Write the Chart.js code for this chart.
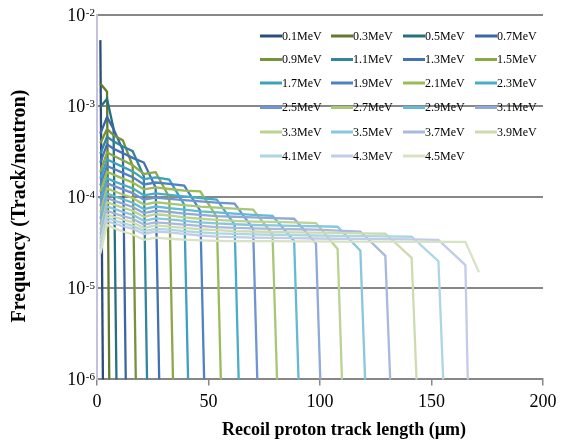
<!DOCTYPE html>
<html>
<head>
<meta charset="utf-8">
<script src="https://cdn.jsdelivr.net/npm/chart.js@4.4.0/dist/chart.umd.min.js"></script>
<style>
  html, body { margin: 0; padding: 0; background: #fff; }
  #wrap { width: 563px; height: 443px; }
</style>
</head>
<body>
<div id="wrap"><canvas id="chart" width="563" height="443"></canvas></div>
<script>
// track length of each bin (um), shared by all curves
var trackLength = [1.5, 4.5, 7.4, 11.6, 16.0, 21.0, 26.3, 32.4, 39.1, 46.3, 53.7, 61.7,
                   70.0, 78.7, 88.4, 98.2, 107.9, 118.1, 129.3, 141.1, 153.1, 165.2, 171.3];

var energies = ['0.1MeV', '0.3MeV', '0.5MeV', '0.7MeV', '0.9MeV', '1.1MeV', '1.3MeV', '1.5MeV',
                '1.7MeV', '1.9MeV', '2.1MeV', '2.3MeV', '2.5MeV', '2.7MeV', '2.9MeV', '3.1MeV',
                '3.3MeV', '3.5MeV', '3.7MeV', '3.9MeV', '4.1MeV', '4.3MeV', '4.5MeV'];

// frequency (track/neutron) per bin, one list per neutron energy
var f01 = [5.3e-3];
var f03 = [1.77e-3, 1.44e-3];
var f05 = [9.8e-4, 1.2e-3, 5.7e-4];
var f07 = [5.0e-4, 7.6e-4, 5.6e-4, 3.3e-4];
var f09 = [3.9e-4, 5.6e-4, 4.8e-4, 4.2e-4, 2.2e-4];
var f11 = [3.0e-4, 4.6e-4, 4.1e-4, 3.6e-4, 3.2e-4, 1.7e-4];
var f13 = [2.4e-4, 3.8e-4, 3.4e-4, 3.05e-4, 2.7e-4, 2.4e-4, 1.28e-4];
var f15 = [1.9e-4, 3.1e-4, 2.85e-4, 2.55e-4, 2.25e-4, 1.8e-4, 1.88e-4, 1.0e-4];
var f17 = [1.6e-4, 2.6e-4, 2.4e-4, 2.15e-4, 1.92e-4, 1.58e-4, 1.65e-4, 1.56e-4, 8.3e-5];
var f19 = [1.35e-4, 2.2e-4, 2.05e-4, 1.85e-4, 1.66e-4, 1.38e-4, 1.45e-4, 1.4e-4, 1.34e-4, 7.1e-5];
var f21 = [1.15e-4, 1.9e-4, 1.77e-4, 1.6e-4, 1.45e-4, 1.22e-4, 1.28e-4, 1.23e-4, 1.18e-4, 1.16e-4, 6.1e-5];
var f23 = [9.5e-5, 1.62e-4, 1.5e-4, 1.37e-4, 1.25e-4, 1.05e-4, 1.1e-4, 1.06e-4, 1.02e-4, 9.8e-5, 9.4e-5, 5.0e-5];
var f25 = [8.0e-5, 1.42e-4, 1.33e-4, 1.22e-4, 1.11e-4, 9.4e-5, 9.9e-5, 9.6e-5, 9.3e-5, 9.0e-5, 8.7e-5, 8.5e-5, 4.5e-5];
var f27 = [6.8e-5, 1.25e-4, 1.17e-4, 1.07e-4, 9.8e-5, 8.3e-5, 8.8e-5, 8.5e-5, 8.2e-5, 7.9e-5, 7.7e-5, 7.5e-5, 7.3e-5, 3.9e-5];
var f29 = [5.8e-5, 1.1e-4, 1.03e-4, 9.5e-5, 8.7e-5, 7.4e-5, 7.9e-5, 7.6e-5, 7.3e-5, 7.0e-5, 6.8e-5, 6.6e-5, 6.4e-5, 6.25e-5, 3.3e-5];
var f31 = [5.0e-5, 9.8e-5, 9.2e-5, 8.5e-5, 7.8e-5, 6.7e-5, 7.1e-5, 6.9e-5, 6.6e-5, 6.4e-5, 6.2e-5, 6.1e-5, 6.0e-5, 5.9e-5, 5.8e-5, 3.1e-5];
var f33 = [4.4e-5, 8.8e-5, 8.3e-5, 7.7e-5, 7.1e-5, 6.1e-5, 6.5e-5, 6.3e-5, 6.0e-5, 5.8e-5, 5.65e-5, 5.5e-5, 5.4e-5, 5.35e-5, 5.3e-5, 5.2e-5, 2.7e-5];
var f35 = [3.9e-5, 7.9e-5, 7.5e-5, 6.9e-5, 6.4e-5, 5.5e-5, 5.85e-5, 5.7e-5, 5.5e-5, 5.3e-5, 5.15e-5, 5.05e-5, 4.95e-5, 4.9e-5, 4.85e-5, 4.8e-5, 4.74e-5, 2.58e-5];
var f37 = [3.5e-5, 7.1e-5, 6.7e-5, 6.2e-5, 5.8e-5, 5.0e-5, 5.3e-5, 5.15e-5, 5.0e-5, 4.85e-5, 4.7e-5, 4.6e-5, 4.55e-5, 4.5e-5, 4.45e-5, 4.4e-5, 4.3e-5, 4.2e-5, 2.27e-5];
var f39 = [3.2e-5, 6.5e-5, 6.1e-5, 5.7e-5, 5.3e-5, 4.6e-5, 4.9e-5, 4.75e-5, 4.6e-5, 4.45e-5, 4.35e-5, 4.25e-5, 4.2e-5, 4.15e-5, 4.12e-5, 4.08e-5, 4.05e-5, 4.0e-5, 3.97e-5, 2.16e-5];
var f41 = [2.9e-5, 6.0e-5, 5.6e-5, 5.2e-5, 4.85e-5, 4.25e-5, 4.5e-5, 4.4e-5, 4.25e-5, 4.1e-5, 4.0e-5, 3.95e-5, 3.9e-5, 3.87e-5, 3.84e-5, 3.8e-5, 3.77e-5, 3.74e-5, 3.71e-5, 3.68e-5, 1.98e-5];
var f43 = [2.7e-5, 5.5e-5, 5.15e-5, 4.8e-5, 4.5e-5, 3.95e-5, 4.2e-5, 4.1e-5, 3.95e-5, 3.8e-5, 3.7e-5, 3.65e-5, 3.6e-5, 3.58e-5, 3.55e-5, 3.52e-5, 3.5e-5, 3.48e-5, 3.46e-5, 3.44e-5, 3.4e-5, 1.8e-5];
var f45 = [2.4e-5, 5.0e-5, 4.6e-5, 4.2e-5, 3.9e-5, 3.4e-5, 3.6e-5, 3.5e-5, 3.42e-5, 3.36e-5, 3.32e-5, 3.3e-5, 3.3e-5, 3.3e-5, 3.28e-5, 3.27e-5, 3.26e-5, 3.25e-5, 3.25e-5, 3.24e-5, 3.24e-5, 3.24e-5, 1.5e-5];

var frequency = [f01, f03, f05, f07, f09, f11, f13, f15, f17, f19, f21, f23,
                 f25, f27, f29, f31, f33, f35, f37, f39, f41, f43, f45];

// each curve falls to (practically) zero at the next bin
var dropValue = 1e-12;

var yTicks = [1e-6, 1e-5, 1e-4, 1e-3, 1e-2];
var yExponents = ['-6', '-5', '-4', '-3', '-2'];
var xTicks = [0, 50, 100, 150, 200];

var lineColors = [
    '#2c4d7a', '#627a30', '#27707f', '#3b65a3', '#76923c', '#31859c', '#4470b4', '#8aa84a',
    '#3ea0bd', '#4f81c4', '#9bbb59', '#4bacc6', '#7094cf', '#a9c675', '#63bad2', '#90a9d8',
    '#bad292', '#88c7dc', '#a9b8de', '#cddcb0', '#acd6e3', '#c2cce6', '#d8e2c4'
];

var serif = '"Liberation Serif", "Times New Roman", serif';

var datasets = energies.map(function (name, i) {
    var vals = frequency[i];
    var pts = vals.map(function (v, k) { return { x: trackLength[k], y: v }; });
    if (vals.length < trackLength.length) {
        pts.push({ x: trackLength[vals.length], y: dropValue });
    }
    return {
        label: name,
        data: pts,
        borderColor: lineColors[i],
        backgroundColor: lineColors[i],
        borderWidth: 2.3,
        pointRadius: 0,
        tension: 0,
        fill: false,
        order: 23 - i
    };
});

// y labels with superscript, axis titles, and the 4-column legend inside the plot
var decorations = {
    id: 'decorations',
    afterDraw: function (chart) {
        var ctx = chart.ctx;
        var y = chart.scales.y;
        var area = chart.chartArea;
        ctx.save();
        ctx.fillStyle = '#000';

        yTicks.forEach(function (v, i) {
            var py = y.getPixelForValue(v);
            ctx.font = '11px ' + serif;
            ctx.textAlign = 'left';
            ctx.textBaseline = 'alphabetic';
            var ew = ctx.measureText(yExponents[i]).width;
            var ex = area.left - 2 - ew;
            ctx.fillText(yExponents[i], ex, py + 1);
            ctx.font = '18px ' + serif;
            ctx.textAlign = 'right';
            ctx.textBaseline = 'middle';
            ctx.fillText('10', ex - 0.5, py + 1);
        });

        ctx.font = 'bold 18px ' + serif;
        ctx.textAlign = 'center';
        ctx.textBaseline = 'middle';
        ctx.fillText('Recoil proton track length (\u00b5m)', 344, 430);

        ctx.save();
        ctx.translate(20, 206);
        ctx.rotate(-Math.PI / 2);
        ctx.font = 'bold 20px ' + serif;
        ctx.fillText('Frequency (Track/neutron)', 0, 0);
        ctx.restore();

        var cols = [260, 331, 403, 475];
        var rows = [36, 59.5, 83, 107.5, 132, 156];
        ctx.font = '12px ' + serif;
        ctx.textAlign = 'left';
        ctx.textBaseline = 'middle';
        energies.forEach(function (name, i) {
            var cx = cols[i % 4], cy = rows[Math.floor(i / 4)];
            ctx.strokeStyle = lineColors[i];
            ctx.lineWidth = 3;
            ctx.beginPath();
            ctx.moveTo(cx, cy);
            ctx.lineTo(cx + 22, cy);
            ctx.stroke();
            ctx.fillStyle = '#000';
            ctx.fillText(name, cx + 22, cy + 0.5);
        });
        ctx.restore();
    }
};

new Chart(document.getElementById('chart'), {
    type: 'line',
    data: { datasets: datasets },
    options: {
        responsive: false,
        animation: false,
        devicePixelRatio: 1,
        layout: { padding: { left: 6, right: 20, top: 15, bottom: 24 } },
        plugins: {
            legend: { display: false },
            tooltip: { enabled: false }
        },
        scales: {
            x: {
                type: 'linear',
                min: 0,
                max: 200,
                afterBuildTicks: function (axis) {
                    axis.ticks = xTicks.map(function (v) { return { value: v }; });
                },
                ticks: {
                    color: '#000',
                    font: { family: serif, size: 18 },
                    padding: 6,
                    maxRotation: 0
                },
                grid: { drawOnChartArea: false, drawTicks: true, tickLength: 6, color: '#878787', lineWidth: 1.5 },
                border: { color: '#878787', width: 2 }
            },
            y: {
                type: 'logarithmic',
                min: 1e-6,
                max: 1e-2,
                afterBuildTicks: function (axis) {
                    axis.ticks = yTicks.map(function (v) { return { value: v }; });
                },
                afterFit: function (scale) { scale.width = 91; },
                ticks: { display: false },
                grid: { color: '#878787', lineWidth: 2, drawTicks: false },
                border: { color: '#c6c1da', width: 2 }
            }
        }
    },
    plugins: [decorations]
});
</script>
</body>
</html>
